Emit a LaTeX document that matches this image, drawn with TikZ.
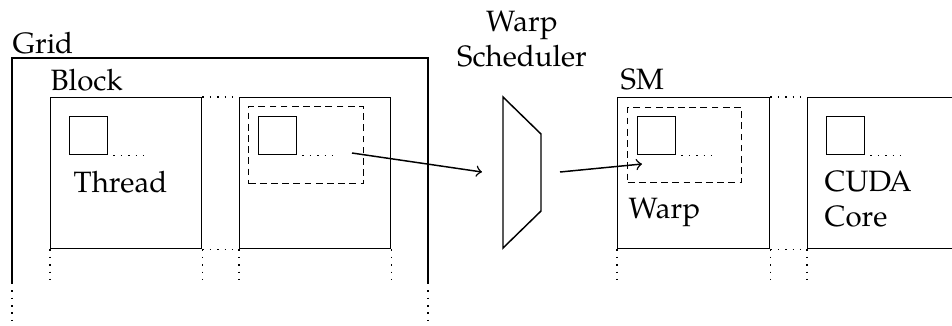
\documentclass[tikz,border=0pt]{standalone}
\usepackage{fontspec}
\setmainfont{TeX Gyre Pagella}
\newcommand{\pxu}{0.34pt}
\tikzset{
    unitbox/.style={draw, inner sep=0pt, anchor=north west, minimum width=151*\pxu, minimum height=151*\pxu},
    corebox/.style={draw, inner sep=0pt, anchor=north west, minimum size=38*\pxu},
    warpbox/.style={draw, dash pattern=on 2.3pt off 1.5pt, inner sep=0pt, anchor=north west},
    lbl/.style={inner sep=0pt, anchor=base west},
    more/.style={dotted},
}
\begin{document}
\begin{tikzpicture}[x=\pxu, y=-\pxu, line width=0.5pt]
    \useasboundingbox (0,0) rectangle (952,325);
    % grid of blocks
    \draw (12,283) |- (428,58) -- (428,283);
    \draw[more] (12,283) -- (12,322);
    \draw[more] (428,283) -- (428,322);
    \node[lbl] (gridlbl) at (12,53) {Grid};
    \node[unitbox] (blk1) at (50,97) {};
    \node[unitbox] (blk2) at (239,97) {};
    \node[lbl] (blklbl) at (50,90) {Block};
    \draw[more] (blk1.north east) -- (blk2.north west);
    \draw[more] (blk1.south east) -- (blk2.south west);
    \foreach \n in {blk1.south west, blk1.south east, blk2.south west, blk2.south east}{
        \draw[more] (\n) -- ++(0,35);
    }
    \node[corebox] (thr1) at (69,116) {};
    \node[corebox] (thr2) at (258,116) {};
    \foreach \t in {thr1, thr2}{
        \draw[more] ([xshift=5*\pxu]\t.south east) -- ++(30,0);
    }
    \node[lbl] (thrlbl) at (73,192) {Thread};
    \node[warpbox, minimum width=115*\pxu, minimum height=77*\pxu] (wrp1) at (248,106) {};
    % scheduler
    \draw (503,97) -- (541,134) -- (541,211) -- (503,248) -- cycle;
    \node[align=center, inner sep=0pt, anchor=north] (schedlbl) at (522,10) {Warp\\Scheduler};
    \coordinate (src) at (352,153);
    \coordinate (schin) at (482,172);
    \coordinate (schout) at (560,172);
    \coordinate (dst) at (642,164);
    \draw[->] (src) -- (schin);
    \draw[->] (schout) -- (dst);
    % streaming multiprocessors
    \node[unitbox, minimum width=152*\pxu] (sm1) at (617,97) {};
    \node[unitbox] (sm2) at (807,97) {};
    \node[lbl] (smlbl) at (620,89) {SM};
    \draw[more] (sm1.north east) -- (sm2.north west);
    \draw[more] (sm1.south east) -- (sm2.south west);
    \foreach \n in {sm1.south west, sm1.south east, sm2.south west}{
        \draw[more] (\n) -- ++(0,35);
    }
    \node[warpbox, minimum width=114*\pxu, minimum height=75*\pxu] (wrp2) at (627,107) {};
    \node[corebox] (thr3) at (637,116) {};
    \node[corebox] (thr4) at (826,116) {};
    \foreach \t in {thr3, thr4}{
        \draw[more] ([xshift=5*\pxu]\t.south east) -- ++(30,0);
    }
    \node[lbl] (wrplbl) at (628,218) {Warp};
    \node[inner sep=0pt, anchor=north west, align=left] (corelbl) at (824,170) {CUDA\\Core};
\end{tikzpicture}
\end{document}
